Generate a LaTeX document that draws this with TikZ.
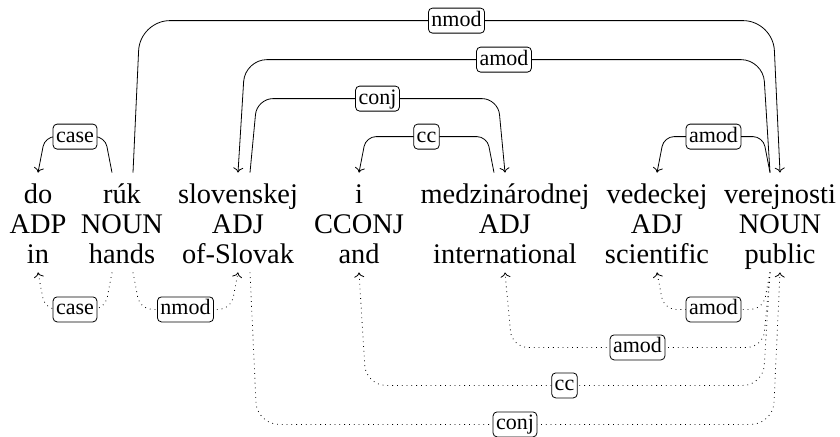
\documentclass[tikz,border=0pt]{standalone}
\usepackage{fontspec}
\setmainfont{Liberation Serif}
\usetikzlibrary{calc,arrows.meta}

\tikzset{
  tok/.style={anchor=base, inner xsep=0pt, font=\fontsize{14.2}{15}\selectfont},
  wd/.style={tok, text height=10pt, text depth=0pt, inner ysep=5pt},
  tag/.style={tok, inner ysep=0pt},
  gl/.style={tok, text height=10pt, text depth=3pt, inner ysep=1.5pt},
  rel/.style={draw, solid, fill=white, rounded corners=2pt, inner sep=1.5pt,
    text height=7.5pt, text depth=2pt, font=\fontsize{11}{12}\selectfont},
  dep/.style={-{To[length=2.5pt,width=5pt]}},
  ddep/.style={dep, dotted}
}

\begin{document}
\begin{tikzpicture}[x=0.5pt, y=-0.5pt]
  \useasboundingbox (0,0) rectangle (840,436);

  % words
  \node[wd] (do) at (38,203) {do};
  \node[wd] (ruk) at (122,203) {rúk};
  \node[wd] (slov) at (238,203) {slovenskej};
  \node[wd] (i) at (359,203) {i};
  \node[wd] (medz) at (505,203) {medzinárodnej};
  \node[wd] (ved) at (657,203) {vedeckej};
  \node[wd] (ver) at (780,203) {verejnosti};

  % tags
  \node[tag] (do-tag) at (38,233) {ADP};
  \node[tag] (ruk-tag) at (122,233) {NOUN};
  \node[tag] (slov-tag) at (238,233) {ADJ};
  \node[tag] (i-tag) at (359,233) {CCONJ};
  \node[tag] (medz-tag) at (505,233) {ADJ};
  \node[tag] (ved-tag) at (657,233) {ADJ};
  \node[tag] (ver-tag) at (780,233) {NOUN};

  % glosses
  \node[gl] (do-gl) at (38,263) {in};
  \node[gl] (ruk-gl) at (122,263) {hands};
  \node[gl] (slov-gl) at (238,263) {of-Slovak};
  \node[gl] (i-gl) at (359,263) {and};
  \node[gl] (medz-gl) at (505,263) {international};
  \node[gl] (ved-gl) at (657,263) {scientific};
  \node[gl] (ver-gl) at (780,263) {public};

  % arcs above
  \draw[dep, rounded corners=5pt] ($(ruk.north)+(-10,0)$) -- ++(-7,-36)
    -- ($(do.north)+(7,-36)$) node[rel, midway] {case} -- (do.north);
  \draw[dep, rounded corners=15pt] ($(ruk.north)+(11,0)$) -- ++(7,-152)
    -- ($(ver.north)+(-7,-152)$) node[rel, midway] {nmod} -- (ver.north);
  \draw[dep, rounded corners=11pt] ($(ver.north)+(-10,0)$) -- ++(-7,-113)
    -- ($(slov.north)+(7,-113)$) node[rel, midway] {amod} -- (slov.north);
  \draw[dep, rounded corners=8pt] ($(slov.north)+(12,0)$) -- ++(7,-74)
    -- ($(medz.north)+(-7,-74)$) node[rel, midway] {conj} -- (medz.north);
  \draw[dep, rounded corners=5pt] ($(medz.north)+(-11,0)$) -- ++(-7,-36)
    -- ($(i.north)+(7,-36)$) node[rel, midway] {cc} -- (i.north);
  \draw[dep, rounded corners=5pt] ($(ver.north)+(-10,0)$) -- ++(-7,-36)
    -- ($(ved.north)+(7,-36)$) node[rel, midway] {amod} -- (ved.north);

  % arcs below
  \draw[ddep, rounded corners=6pt] ($(ruk-gl.south)+(-10,0)$) -- ++(-7,37)
    -- ($(do-gl.south)+(7,37)$) node[rel, midway] {case} -- (do-gl.south);
  \draw[ddep, rounded corners=6pt] ($(ruk-gl.south)+(11,0)$) -- ++(7,37)
    -- ($(slov-gl.south)+(-7,37)$) node[rel, midway] {nmod} -- (slov-gl.south);
  \draw[ddep, rounded corners=6pt] ($(ver-gl.south)+(-10,0)$) -- ++(-7,37)
    -- ($(ved-gl.south)+(7,37)$) node[rel, midway] {amod} -- (ved-gl.south);
  \draw[ddep, rounded corners=8pt] ($(ver-gl.south)+(-10,0)$) -- ++(-7,75)
    -- ($(medz-gl.south)+(7,75)$) node[rel, midway] {amod} -- (medz-gl.south);
  \draw[ddep, rounded corners=10pt] ($(ver-gl.south)+(-10,0)$) -- ++(-7,113)
    -- ($(i-gl.south)+(7,113)$) node[rel, midway] {cc} -- (i-gl.south);
  \draw[ddep, rounded corners=11pt] ($(slov-gl.south)+(12,0)$) -- ++(7,152)
    -- ($(ver-gl.south)+(-7,152)$) node[rel, midway] {conj} -- (ver-gl.south);
\end{tikzpicture}
\end{document}
